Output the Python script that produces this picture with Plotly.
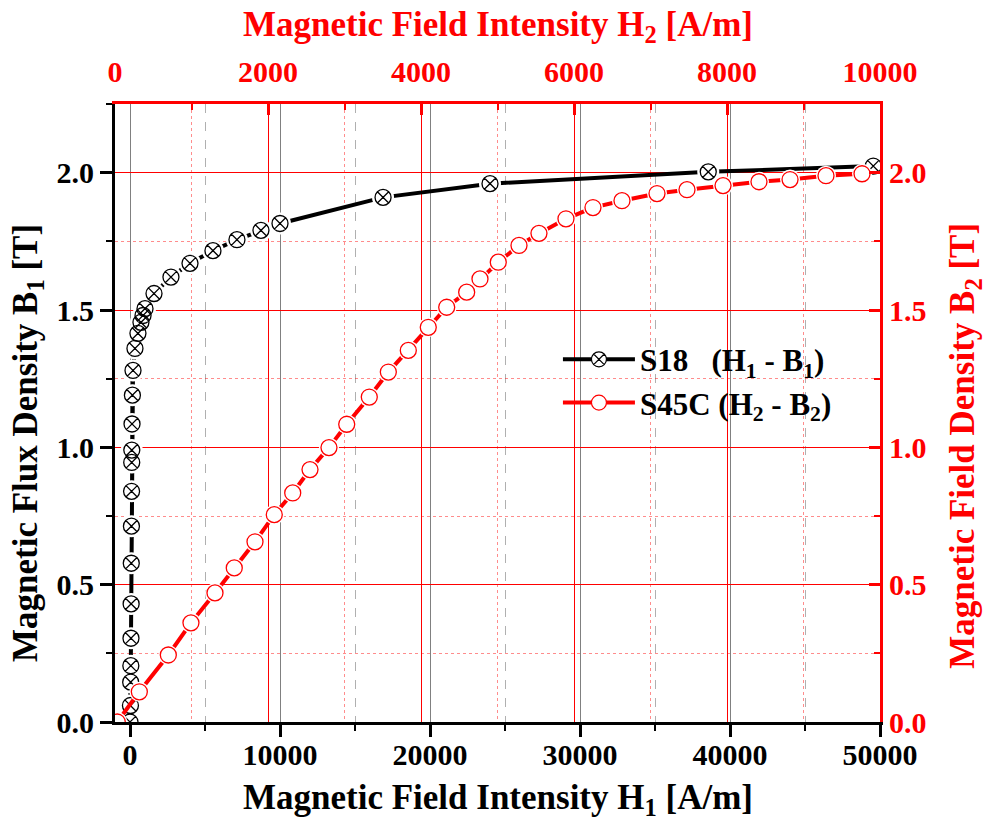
import plotly.graph_objects as go

# ---------------- data ----------------
# S18 : H1 (bottom axis, A/m) - B1 (left axis, T)
s18_h = [0, 30, 45, 55, 65, 75, 85, 95, 105, 115, 120, 135, 160, 200,
         330, 530, 730, 870, 1000, 1600, 2730, 4000, 5530, 7130, 8730,
         10000, 16870, 24000, 38550, 49550]
s18_b = [0.0, 0.06, 0.145, 0.205, 0.305, 0.43, 0.578, 0.713, 0.84, 0.945,
         0.99, 1.085, 1.19, 1.28, 1.36, 1.415, 1.455, 1.48, 1.505, 1.56,
         1.62, 1.67, 1.716, 1.756, 1.79, 1.815, 1.91, 1.96, 2.003, 2.024]

# S45C : H2 (top axis, A/m) - B2 (right axis, T)
s45c_h = [30, 318, 697, 993, 1307, 1559, 1830, 2082, 2323, 2549, 2797,
          3029, 3324, 3573, 3834, 4095, 4336, 4597, 4771, 5010, 5281,
          5542, 5895, 6248, 6627, 7085, 7477, 7948, 8418, 8824, 9294, 9765]
s45c_b = [0.0, 0.110, 0.244, 0.361, 0.470, 0.561, 0.656, 0.755, 0.834,
          0.919, 0.999, 1.084, 1.183, 1.274, 1.353, 1.437, 1.510, 1.565,
          1.613, 1.674, 1.735, 1.779, 1.832, 1.873, 1.898, 1.924, 1.938,
          1.953, 1.967, 1.975, 1.989, 1.996]

name_s18 = "S18\u00a0\u00a0\u00a0(H<sub>1</sub> - B<sub>1</sub>)"
name_s45c = "S45C (H<sub>2</sub> - B<sub>2</sub>)"

title_x1 = "Magnetic Field Intensity H<sub>1</sub> [A/m]"
title_x2 = "Magnetic Field Intensity H<sub>2</sub> [A/m]"
title_y1 = "Magnetic Flux Density B<sub>1</sub> [T]"
title_y2 = "Magnetic Field Density B<sub>2</sub> [T]"

FONT = "Liberation Serif"
RED = "#ff0000"

fig = go.Figure()

# ---- S18 (black) ----
fig.add_trace(go.Scatter(x=s18_h, y=s18_b, mode="lines",
                         line=dict(color="black", width=4),
                         showlegend=False, hoverinfo="skip",
                         xaxis="x", yaxis="y"))
fig.add_trace(go.Scatter(x=s18_h, y=s18_b, mode="markers",
                         marker=dict(symbol="circle", size=22, color="white",
                                     line=dict(width=0)),
                         showlegend=False, hoverinfo="skip",
                         xaxis="x", yaxis="y"))
fig.add_trace(go.Scatter(x=s18_h, y=s18_b, mode="markers",
                         marker=dict(symbol="circle-x-open", size=16, color="black",
                                     line=dict(width=1.3, color="black")),
                         showlegend=False, xaxis="x", yaxis="y"))
fig.add_trace(go.Scatter(x=[None], y=[None], mode="lines+markers", name=name_s18,
                         line=dict(color="black", width=4),
                         marker=dict(symbol="circle-x", size=15, color="white",
                                     line=dict(width=1.2, color="black")),
                         xaxis="x", yaxis="y"))

# ---- S45C (red) ----
fig.add_trace(go.Scatter(x=s45c_h, y=s45c_b, mode="lines",
                         line=dict(color=RED, width=4),
                         showlegend=False, hoverinfo="skip",
                         xaxis="x2", yaxis="y2"))
fig.add_trace(go.Scatter(x=s45c_h, y=s45c_b, mode="markers",
                         marker=dict(symbol="circle", size=20, color="white",
                                     line=dict(width=0)),
                         showlegend=False, hoverinfo="skip",
                         xaxis="x2", yaxis="y2"))
fig.add_trace(go.Scatter(x=s45c_h, y=s45c_b, mode="markers",
                         marker=dict(symbol="circle-open", size=16, color=RED,
                                     line=dict(width=1.3, color=RED)),
                         showlegend=False, xaxis="x2", yaxis="y2"))
fig.add_trace(go.Scatter(x=[None], y=[None], mode="lines+markers", name=name_s45c,
                         line=dict(color=RED, width=4),
                         marker=dict(symbol="circle", size=15, color="white",
                                     line=dict(width=1.2, color=RED)),
                         xaxis="x2", yaxis="y2"))

tick_black = dict(family=FONT, size=30, color="black", weight="bold")
tick_red = dict(family=FONT, size=30, color=RED, weight="bold")

fig.update_layout(
    width=988, height=824,
    margin=dict(l=115, r=108, t=104, b=102, autoexpand=False),
    paper_bgcolor="white", plot_bgcolor="white",
    font=dict(family=FONT),
    xaxis=dict(range=[-1000, 50000], tickmode="linear", tick0=0, dtick=10000,
               tickformat="d", ticks="outside", ticklen=12, tickwidth=2.5,
               tickcolor="black", showline=True, linecolor="black", linewidth=3,
               showgrid=True, gridcolor="#808080", gridwidth=1, zeroline=False,
               tickfont=tick_black, anchor="y", automargin=False,
               ticklabelstandoff=-8,
               minor=dict(tick0=0, dtick=5000, ticks="outside", ticklen=6,
                          tickwidth=2, tickcolor="black", showgrid=True,
                          gridcolor="#b0b0b0", griddash="dash", gridwidth=1)),
    xaxis2=dict(range=[0, 10000], overlaying="x", side="top", anchor="y2",
                tickmode="linear", tick0=0, dtick=2000, tickformat="d",
                ticks="inside", ticklen=11, tickwidth=2.5, tickcolor=RED,
                showline=True, linecolor=RED, linewidth=3,
                showgrid=True, gridcolor=RED, gridwidth=1, zeroline=False,
                tickfont=tick_red, automargin=False, ticklabelstandoff=7,
                minor=dict(tick0=0, dtick=1000, ticks="inside", ticklen=6,
                           tickwidth=2, tickcolor=RED, showgrid=True,
                           gridcolor="rgba(255,0,0,0.45)", griddash="dot",
                           gridwidth=1)),
    yaxis=dict(range=[0, 2.25], tickmode="linear", tick0=0, dtick=0.5,
               tickformat=".1f", ticks="outside", ticklen=12, tickwidth=2.5,
               tickcolor="black", showline=True, linecolor="black", linewidth=3,
               showgrid=False, zeroline=False, tickfont=tick_black, anchor="x",
               automargin=False,
               minor=dict(tick0=0, dtick=0.25, ticks="outside", ticklen=6,
                          tickwidth=2, tickcolor="black", showgrid=False)),
    yaxis2=dict(range=[0, 2.25], overlaying="y", side="right", anchor="x2",
                tickmode="linear", tick0=0, dtick=0.5, tickformat=".1f",
                ticks="inside", ticklen=11, tickwidth=2.5, tickcolor=RED,
                showline=True, linecolor=RED, linewidth=3,
                showgrid=True, gridcolor=RED, gridwidth=1, zeroline=False,
                tickfont=tick_red, automargin=False,
                minor=dict(tick0=0, dtick=0.25, ticks="inside", ticklen=6,
                           tickwidth=2, tickcolor=RED, showgrid=True,
                           gridcolor="rgba(255,0,0,0.45)", griddash="dot",
                           gridwidth=1)),
    legend=dict(x=0.579, y=0.630, xanchor="left", yanchor="top",
                bgcolor="rgba(0,0,0,0)", borderwidth=0,
                font=dict(family=FONT, size=31, color="black", weight="bold"),
                itemwidth=72, tracegroupgap=0),
    annotations=[
        dict(text=title_x1, xref="paper", yref="paper", x=0.5, y=-0.1262,
             xanchor="center", yanchor="middle", showarrow=False,
             font=dict(family=FONT, size=35, color="black", weight="bold")),
        dict(text=title_x2, xref="paper", yref="paper", x=0.5, y=1.1262,
             xanchor="center", yanchor="middle", showarrow=False,
             font=dict(family=FONT, size=35, color=RED, weight="bold")),
        dict(text=title_y1, xref="paper", yref="paper", x=-0.1137, y=0.4515,
             xanchor="center", yanchor="middle", showarrow=False, textangle=-90,
             font=dict(family=FONT, size=35, color="black", weight="bold")),
        dict(text=title_y2, xref="paper", yref="paper", x=1.1111, y=0.447,
             xanchor="center", yanchor="middle", showarrow=False, textangle=-90,
             font=dict(family=FONT, size=35, color=RED, weight="bold")),
    ],
)

fig.write_html("out.html", config={"displayModeBar": False},
               post_script="document.body.style.margin='0';"
                           "document.body.style.overflow='hidden';")
